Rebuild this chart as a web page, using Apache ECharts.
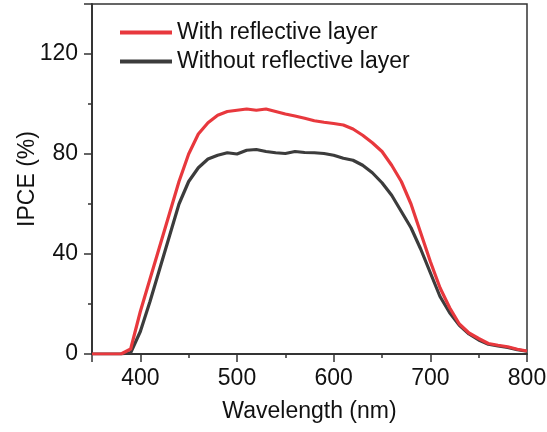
<!DOCTYPE html>
<html>
<head>
<meta charset="utf-8">
<script src="https://cdn.jsdelivr.net/npm/echarts@6/dist/echarts.min.js"></script>
<style>
  html, body { margin: 0; padding: 0; background: #fff; }
  #chart { width: 547px; height: 432px; }
</style>
</head>
<body>
<div id="chart"></div>
<script>
const wavelengths = [350, 360, 370, 380, 390, 400, 410, 420, 430, 440, 450, 460, 470, 480, 490, 500,
  510, 520, 530, 540, 550, 560, 570, 580, 590, 600, 610, 620, 630, 640, 650, 660, 670, 680, 690, 700,
  710, 720, 730, 740, 750, 760, 770, 780, 790, 800];
const ipceWith = [0, 0, 0, 0, 2, 17, 30, 43, 56, 69, 80, 88, 92.5, 95.5, 97, 97.5,
  98, 97.5, 98, 97, 96, 95.2, 94.3, 93.3, 92.7, 92.2, 91.6, 90, 87.5, 84.5, 81, 75.5, 69, 60, 48.5, 37,
  26.5, 18.5, 12, 8.4, 6.2, 4.2, 3.5, 2.9, 1.9, 1.2];
const ipceWithout = [0, 0, 0, 0, 0.5, 9, 21, 34, 47, 60, 69, 74.5, 78, 79.5, 80.5, 80,
  81.5, 81.8, 81, 80.5, 80.2, 81, 80.6, 80.5, 80.2, 79.5, 78.3, 77.5, 75.5, 72.5, 68.5, 63.5, 57, 50.5, 42, 32.5,
  23, 16.5, 11.5, 8, 5.6, 3.9, 3.2, 2.6, 1.7, 1.1];
const seriesNames = ['With reflective layer', 'Without reflective layer'];
const seriesColors = ['#e8383d', '#3c3c3c'];

const chart = echarts.init(document.getElementById('chart'));
const font = 'Liberation Sans, Arial, sans-serif';
const axisColor = '#333';
const textColor = '#111';

const option = {
  animation: false,
  textStyle: { fontFamily: font },
  grid: {
    left: 92, right: 20, top: 4, bottom: 78,
    outerBoundsMode: 'none',
    show: true, borderColor: axisColor, borderWidth: 1.5, backgroundColor: 'transparent'
  },
  legend: {
    orient: 'vertical',
    left: 120,
    top: 21,
    padding: 0,
    itemWidth: 52,
    itemHeight: 4,
    itemGap: 6,
    icon: 'rect',
    data: seriesNames,
    textStyle: { fontSize: 23, color: textColor, fontFamily: font }
  },
  xAxis: [
    {
      type: 'value', min: 350, max: 800, interval: 50,
      axisLine: { lineStyle: { color: axisColor, width: 1.5 } },
      axisTick: { length: 4, lineStyle: { color: axisColor, width: 1.5 } },
      axisLabel: { show: false },
      splitLine: { show: false }
    },
    {
      type: 'value', min: 350, max: 800, position: 'bottom',
      splitNumber: 5, minInterval: 100, maxInterval: 100,
      axisLine: { lineStyle: { color: axisColor, width: 1.5 } },
      axisTick: { length: 8, lineStyle: { color: axisColor, width: 1.5 } },
      axisLabel: {
        fontSize: 23, color: textColor, margin: 13,
        formatter: v => (v % 100 === 0 ? String(v) : '')
      },
      splitLine: { show: false },
      name: 'Wavelength (nm)',
      nameLocation: 'middle',
      nameGap: 46,
      nameMoveOverlap: false,
      nameTextStyle: { fontSize: 23, color: textColor }
    }
  ],
  yAxis: [
    {
      type: 'value', min: 0, max: 140, interval: 20, position: 'left',
      axisLine: { show: true, lineStyle: { color: axisColor, width: 1.5 } },
      axisTick: { show: true, length: 4, lineStyle: { color: axisColor, width: 1.5 } },
      axisLabel: { show: false },
      splitLine: { show: false }
    },
    {
      type: 'value', min: 0, max: 140, interval: 40, position: 'left', offset: 0,
      axisLine: { show: true, lineStyle: { color: axisColor, width: 1.5 } },
      axisTick: { show: true, length: 8, lineStyle: { color: axisColor, width: 1.5 } },
      axisLabel: {
        fontSize: 23, color: textColor, margin: 14,
        formatter: v => (v === 140 ? '' : String(v))
      },
      splitLine: { show: false },
      name: 'IPCE (%)',
      nameLocation: 'middle',
      nameGap: 53,
      nameMoveOverlap: false,
      nameTextStyle: { fontSize: 23, color: textColor }
    }
  ],
  series: [
    {
      name: seriesNames[1],
      type: 'line',
      xAxisIndex: 0, yAxisIndex: 0,
      showSymbol: false,
      symbol: 'none',
      data: wavelengths.map((w, i) => [w, ipceWithout[i]]),
      lineStyle: { color: seriesColors[1], width: 3.2 },
      itemStyle: { color: seriesColors[1] }
    },
    {
      name: seriesNames[0],
      type: 'line',
      xAxisIndex: 0, yAxisIndex: 0,
      showSymbol: false,
      symbol: 'none',
      data: wavelengths.map((w, i) => [w, ipceWith[i]]),
      lineStyle: { color: seriesColors[0], width: 3.2 },
      itemStyle: { color: seriesColors[0] }
    }
  ]
};

chart.setOption(option);
window.addEventListener('resize', function () {
  chart.resize();
});
</script>
</body>
</html>
